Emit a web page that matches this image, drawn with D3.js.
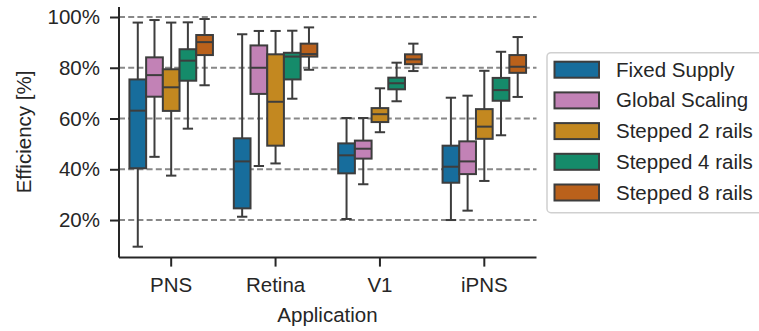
<!DOCTYPE html>
<html>
<head>
<meta charset="utf-8">
<script src="https://cdn.jsdelivr.net/npm/d3@7"></script>
<style>
  body { margin: 0; background: #fff; }
  text { font-family: Arial, "Liberation Sans", Helvetica, sans-serif; fill: #262626; }
</style>
</head>
<body>
<div id="chart"></div>
<script>
const apps = ['PNS', 'Retina', 'V1', 'iPNS'];
const seriesNames = ['Fixed Supply', 'Global Scaling', 'Stepped 2 rails', 'Stepped 4 rails', 'Stepped 8 rails'];
const colors = ['#176d9c', '#c282b6', '#c38820', '#158b6a', '#ba611b'];
const yTicks = [20, 40, 60, 80, 100];

// [whisker low, q1, median, q3, whisker high] per application
const fixedSupply = [
  [9.5, 40.4, 63.1, 75.4, 97.8],
  [21.3, 24.6, 43.1, 52.2, 93.2],
  [20.4, 38.4, 45.5, 50.2, 60.2],
  [20.0, 34.7, 41.0, 49.3, 68.2]
];
const globalScaling = [
  [44.9, 68.6, 77.1, 84.1, 98.8],
  [41.3, 69.7, 80.0, 88.8, 94.5],
  [34.1, 44.2, 48.1, 51.3, 60.2],
  [23.7, 38.1, 43.1, 51.0, 69.0]
];
const stepped2 = [
  [37.5, 63.0, 72.3, 79.4, 97.8],
  [42.3, 49.3, 66.6, 85.3, 94.5],
  [54.6, 58.6, 61.7, 64.1, 71.9],
  [35.4, 52.0, 56.8, 63.7, 78.8]
];
const stepped4 = [
  [56.0, 74.9, 82.8, 87.3, 97.9],
  [67.8, 75.4, 84.4, 85.9, 94.6],
  [66.8, 71.5, 73.9, 76.1, 82.0],
  [53.4, 67.0, 71.2, 76.0, 86.3]
];
const stepped8 = [
  [73.1, 85.0, 90.1, 92.9, 99.2],
  [79.2, 84.4, 85.4, 89.5, 95.9],
  [78.7, 81.4, 83.3, 85.3, 89.5],
  [68.5, 78.0, 80.4, 85.0, 92.1]
];
const seriesData = [fixedSupply, globalScaling, stepped2, stepped4, stepped8];

const W = 759, H = 331;
const edge = '#3d3d3d';
const fs = 20.5;

const svg = d3.select('#chart').append('svg')
  .attr('width', W).attr('height', H);

const x = d3.scaleBand().domain(apps).range([119, 536.5]).paddingInner(0).paddingOuter(0);
const inner = d3.scaleBand().domain(seriesNames).range([0, x.bandwidth() * 0.8]);
const y = d3.scaleLinear().domain([5.2, 103.9]).range([257.6, 7.1]);

// grid
svg.append('g').selectAll('line').data(yTicks).join('line')
  .attr('x1', 119).attr('x2', 536.5)
  .attr('y1', d => y(d)).attr('y2', d => y(d))
  .attr('stroke', '#888').attr('stroke-width', 1.9)
  .attr('stroke-dasharray', '6,3.2');

// boxes
const bw = inner.bandwidth();
seriesData.forEach((ser, si) => {
  const g = svg.append('g');
  ser.forEach((s, ai) => {
    const x0 = x(apps[ai]) + x.bandwidth() * 0.1 + inner(seriesNames[si]);
    const cx = x0 + bw / 2;
    const [lo, q1, med, q3, hi] = s;
    g.append('line').attr('x1', cx).attr('x2', cx).attr('y1', y(hi)).attr('y2', y(q3))
      .attr('stroke', edge).attr('stroke-width', 2);
    g.append('line').attr('x1', cx).attr('x2', cx).attr('y1', y(q1)).attr('y2', y(lo))
      .attr('stroke', edge).attr('stroke-width', 2);
    [lo, hi].forEach(v => {
      g.append('line').attr('x1', cx - bw / 4).attr('x2', cx + bw / 4)
        .attr('y1', y(v)).attr('y2', y(v))
        .attr('stroke', edge).attr('stroke-width', 2).attr('stroke-linecap', 'square');
    });
    g.append('rect').attr('x', x0).attr('width', bw)
      .attr('y', y(q3)).attr('height', y(q1) - y(q3))
      .attr('fill', colors[si]).attr('stroke', edge).attr('stroke-width', 2);
    g.append('line').attr('x1', x0).attr('x2', x0 + bw)
      .attr('y1', y(med)).attr('y2', y(med))
      .attr('stroke', edge).attr('stroke-width', 2);
  });
});

// axes
const yAxis = svg.append('g').attr('transform', 'translate(119,0)')
  .call(d3.axisLeft(y).tickValues(yTicks).tickFormat(d => d + '%').tickSize(9).tickPadding(10));
const xAxis = svg.append('g').attr('transform', 'translate(0,257.6)')
  .call(d3.axisBottom(x).tickSize(9).tickPadding(11));
[yAxis, xAxis].forEach(a => {
  a.select('.domain').attr('stroke', '#262626').attr('stroke-width', 2);
  a.selectAll('.tick line').attr('stroke', '#262626').attr('stroke-width', 2);
  a.selectAll('.tick text').attr('font-size', fs).attr('fill', '#262626')
    .style('font-family', 'Arial, "Liberation Sans", sans-serif');
});
yAxis.select('.domain').attr('d', 'M0,' + y.range()[0] + 'V' + y.range()[1]);
xAxis.select('.domain').attr('d', 'M119,0H536.5');

svg.append('text').attr('x', 327.5).attr('y', 322).attr('text-anchor', 'middle')
  .attr('font-size', fs).text('Application');
svg.append('text').attr('transform', 'translate(31,132) rotate(-90)').attr('text-anchor', 'middle')
  .attr('font-size', fs).text('Efficiency [%]');

// legend
const leg = svg.append('g');
leg.append('rect').attr('x', 547).attr('y', 52.7).attr('width', 240).attr('height', 160)
  .attr('rx', 4).attr('fill', '#fff').attr('stroke', '#d0d0d0').attr('stroke-width', 1.5);
seriesNames.forEach((name, i) => {
  const yy = 61.7 + i * 30.7;
  leg.append('rect').attr('x', 554.5).attr('y', yy).attr('width', 44.5).attr('height', 16)
    .attr('fill', colors[i]).attr('stroke', edge).attr('stroke-width', 2);
  leg.append('text').attr('x', 616).attr('y', yy + 15).attr('font-size', fs).text(name);
});
</script>
</body>
</html>
